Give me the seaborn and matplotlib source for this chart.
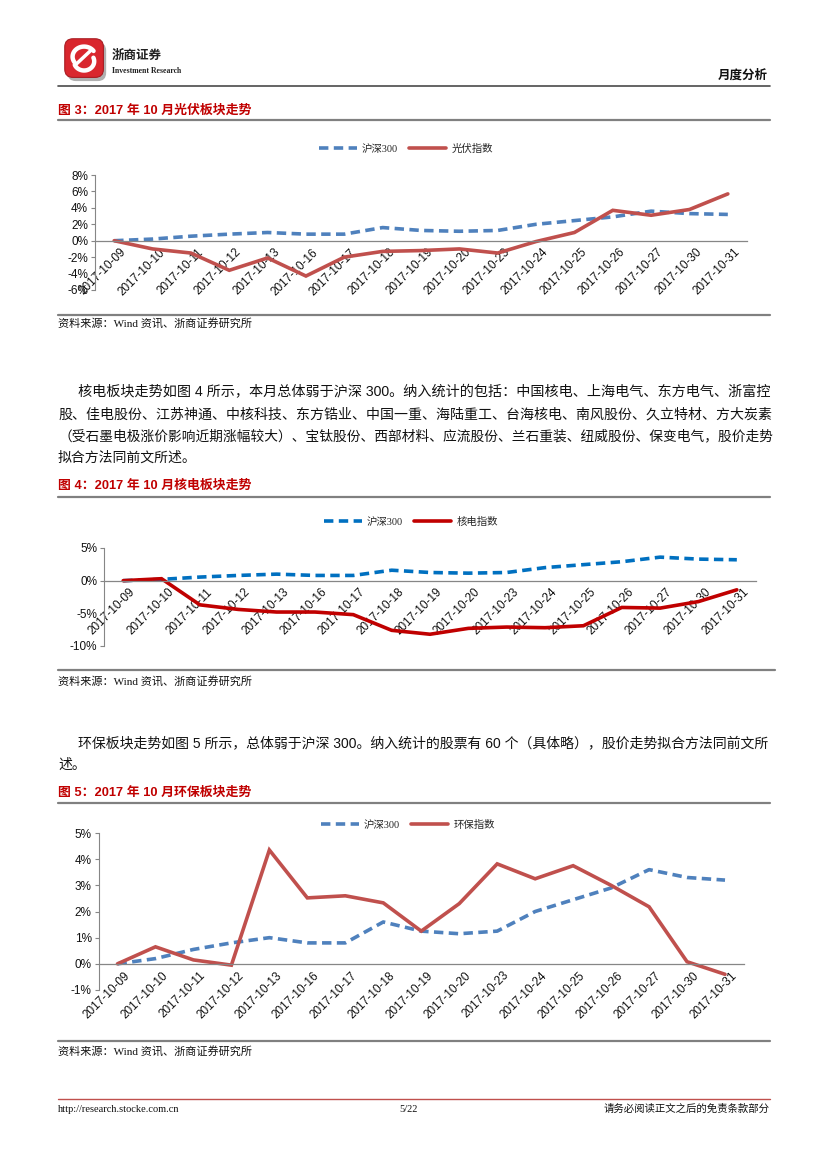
import numpy as np
import matplotlib
matplotlib.use("Agg")
import matplotlib.pyplot as plt
import seaborn as sns
from matplotlib.lines import Line2D
from matplotlib.patches import FancyBboxPatch
import matplotlib.transforms as mtransforms

sns.set_theme(style="white")
plt.rcParams["font.family"] = ["Liberation Sans", "Noto Sans CJK SC", "DejaVu Sans"]

# ---------------- data ----------------
dates = ["2017-10-09", "2017-10-10", "2017-10-11", "2017-10-12", "2017-10-13",
         "2017-10-16", "2017-10-17", "2017-10-18", "2017-10-19", "2017-10-20",
         "2017-10-23", "2017-10-24", "2017-10-25", "2017-10-26", "2017-10-27",
         "2017-10-30", "2017-10-31"]
hs300 = [0.0, 0.2, 0.55, 0.8, 1.0, 0.8, 0.8, 1.6, 1.25, 1.15, 1.25, 2.0, 2.45, 2.9, 3.6, 3.3, 3.2]
pv_index = [0.0, -1.0, -1.5, -3.6, -2.1, -4.3, -2.0, -1.3, -1.2, -1.0, -1.5, -0.1, 1.0, 3.7, 3.1, 3.8, 5.7]
nuclear_index = [0.0, 0.3, -3.7, -4.4, -4.8, -4.8, -5.2, -7.6, -8.2, -7.3, -7.1, -7.2, -6.9, -4.1, -4.2, -3.2, -1.4]
env_index = [0.0, 0.65, 0.15, -0.05, 4.35, 2.52, 2.6, 2.33, 1.25, 2.3, 3.82, 3.25, 3.75, 3.0, 2.18, 0.08, -0.4]

pv_ticks = [-6, -4, -2, 0, 2, 4, 6, 8]
nuclear_ticks = [-10, -5, 0, 5]
env_ticks = [-1, 0, 1, 2, 3, 4, 5]

W, H = 827, 1169
fig = plt.figure(figsize=(W / 100, H / 100), dpi=100)
fig.patch.set_facecolor("white")


def fx(x):
    return x / W


def fy(y):
    return 1 - y / H


def hline(y, x0=58, x1=770, color="#808080", lw=1.6):
    fig.add_artist(Line2D([fx(x0), fx(x1)], [fy(y), fy(y)], color=color, lw=lw))


CJK_SANS = ["Liberation Sans", "Noto Sans CJK SC"]
CJK_SERIF = ["Liberation Serif", "Noto Sans CJK SC"]

# ---------------- header ----------------
logo_ax = fig.add_axes([fx(62), fy(82), fx(46), 46 / H])
logo_ax.set_xlim(0, 1)
logo_ax.set_ylim(0, 1)
logo_ax.axis("off")
logo_ax.add_patch(FancyBboxPatch((0.12, 0.02), 0.84, 0.84, boxstyle="round,pad=0,rounding_size=0.18",
                                 fc="#b0b0b0", ec="none"))
logo_ax.add_patch(FancyBboxPatch((0.06, 0.1), 0.84, 0.84, boxstyle="round,pad=0,rounding_size=0.18",
                                 fc="#d9272e", ec="#a81c22", lw=0.8))
t = np.linspace(0, np.pi, 40)
logo_ax.plot(0.48 + 0.25 * np.cos(t + 0.6), 0.55 + 0.22 * np.sin(t + 0.6), color="white", lw=3.2,
             solid_capstyle="round")
logo_ax.plot(0.48 - 0.22 * np.cos(t + 0.4), 0.45 - 0.2 * np.sin(t + 0.4), color="white", lw=3.2,
             solid_capstyle="round")
logo_ax.plot([0.3, 0.62], [0.38, 0.68], color="white", lw=2.5, solid_capstyle="round")

fig.text(fx(112), fy(56), "浙商证券", family=CJK_SANS, fontsize=9, fontweight="bold",
         color="#222222", va="center", ha="left")
fig.text(fx(112), fy(71), "Investment Research", family=["Liberation Serif"], fontsize=5.6,
         fontweight="bold", color="#222222", va="center", ha="left")
fig.text(fx(768), fy(76), "月度分析", family=CJK_SANS, fontsize=9, fontweight="bold",
         color="#111111", va="center", ha="right")
hline(86, color="#4a4a4a", lw=1.2)

# ---------------- chart helper ----------------


def draw_chart(left, right, top, bottom, main_vals, main_name, ticks, c_hs, c_main,
               leg_x, leg_y):
    ax = fig.add_axes([fx(left), fy(bottom), (right - left) / W, (bottom - top) / H])
    ax.patch.set_alpha(0)
    xs = np.arange(len(dates))
    sns.lineplot(x=xs, y=hs300, ax=ax, color=c_hs, lw=2.6, label="沪深300")
    ax.lines[-1].set_dashes([2.6, 1.5])
    ax.lines[-1].set_dash_capstyle("butt")
    sns.lineplot(x=xs, y=main_vals, ax=ax, color=c_main, lw=2.6, label=main_name)
    ax.lines[-1].set_solid_joinstyle("miter")
    ax.set_xlim(-0.5, len(dates) - 0.5)
    ax.set_ylim(ticks[0], ticks[-1])
    for s in ["top", "right"]:
        ax.spines[s].set_visible(False)
    ax.spines["left"].set_color("#868686")
    ax.spines["left"].set_linewidth(0.8)
    ax.spines["bottom"].set_position(("data", 0))
    ax.spines["bottom"].set_color("#868686")
    ax.spines["bottom"].set_linewidth(0.9)
    ax.grid(False)
    ax.set_xlabel("")
    ax.set_ylabel("")
    ax.tick_params(axis="y", length=3, width=0.8, color="#868686", pad=2, left=True)
    ax.tick_params(axis="x", length=0, pad=4, labelrotation=45)
    ax.set_yticks(ticks)
    ax.set_yticklabels([f"{v}%" for v in ticks], family=["Liberation Sans"], fontsize=8.5,
                       color="#111111")
    ax.set_xticks(xs)
    ax.set_xticklabels(dates, family=["Liberation Sans"], fontsize=8.5, color="#111111")
    off = mtransforms.ScaledTranslation(6 / 100, 0, fig.dpi_scale_trans)
    for lab in ax.get_xticklabels():
        lab.set_rotation(45)
        lab.set_ha("right")
        lab.set_va("top")
        lab.set_rotation_mode("anchor")
        lab.set_transform(lab.get_transform() + off)
    handles, labels = ax.get_legend_handles_labels()
    ax.legend(handles, labels, loc="center", bbox_to_anchor=(fx(leg_x), fy(leg_y)),
              bbox_transform=fig.transFigure, ncol=2, frameon=False, handlelength=3.6,
              handletextpad=0.5, columnspacing=1.0, prop={"family": CJK_SERIF, "size": 7.5})
    return ax


def title(y, text):
    fig.text(fx(58), fy(y), text, family=CJK_SANS, fontsize=9.3, fontweight="bold",
             color="#C00000", va="center", ha="left")


def source(y):
    fig.text(fx(58), fy(y), "资料来源：Wind 资讯、浙商证券研究所", family=CJK_SERIF, fontsize=8,
             color="#111111", va="center", ha="left")


# ---------------- figure 3 ----------------
title(111, "图 3：2017 年 10 月光伏板块走势")
hline(120)
draw_chart(95, 747, 175, 290, pv_index, "光伏指数", pv_ticks, "#4F81BD", "#C0504D", 406, 149)
hline(315)
source(324)

# ---------------- paragraph 1 ----------------
renderer = fig.canvas.get_renderer()


def body_line(x, y, text, justify_to=None, size=10):
    t = fig.text(fx(x), fy(y), text, family=CJK_SANS, fontsize=size, color="#111111",
                 va="center", ha="left")
    if justify_to is not None:
        w = t.get_window_extent(renderer=renderer).width
        t.set_fontsize(size * (justify_to - x) / w)
    return t


body_line(78, 392, "核电板块走势如图 4 所示，本月总体弱于沪深 300。纳入统计的包括：中国核电、上海电气、东方电气、浙富控", 770)
body_line(58, 414, "股、佳电股份、江苏神通、中核科技、东方锆业、中国一重、海陆重工、台海核电、南风股份、久立特材、方大炭素", 770)
body_line(58, 436, "（受石墨电极涨价影响近期涨幅较大）、宝钛股份、西部材料、应流股份、兰石重装、纽威股份、保变电气，股价走势", 770)
body_line(58, 458, "拟合方法同前文所述。")

# ---------------- figure 4 ----------------
title(486, "图 4：2017 年 10 月核电板块走势")
hline(497)
draw_chart(104, 756, 548, 646, nuclear_index, "核电指数", nuclear_ticks, "#0070C0", "#C00000", 411, 522)
hline(670, x1=775)
source(682)

# ---------------- paragraph 2 ----------------
body_line(78, 743, "环保板块走势如图 5 所示，总体弱于沪深 300。纳入统计的股票有 60 个（具体略），股价走势拟合方法同前文所", 770)
body_line(58, 765, "述。")

# ---------------- figure 5 ----------------
title(793, "图 5：2017 年 10 月环保板块走势")
hline(803)
draw_chart(98.5, 744, 833, 990, env_index, "环保指数", env_ticks, "#4F81BD", "#C0504D", 408, 825)
hline(1041)
source(1052)

# ---------------- footer ----------------
hline(1099, color="#C0504D", lw=1.0)
fig.text(fx(58), fy(1109), "http://research.stocke.com.cn", family=["Liberation Serif"], fontsize=7.5,
         color="#111111", va="center", ha="left")
fig.text(fx(408), fy(1109), "5/22", family=["Liberation Serif"], fontsize=7.5,
         color="#111111", va="center", ha="center")
fig.text(fx(770), fy(1109), "请务必阅读正文之后的免责条款部分", family=CJK_SERIF, fontsize=7.5,
         color="#111111", va="center", ha="right")

fig.savefig("out.png", dpi=100, facecolor="white")
